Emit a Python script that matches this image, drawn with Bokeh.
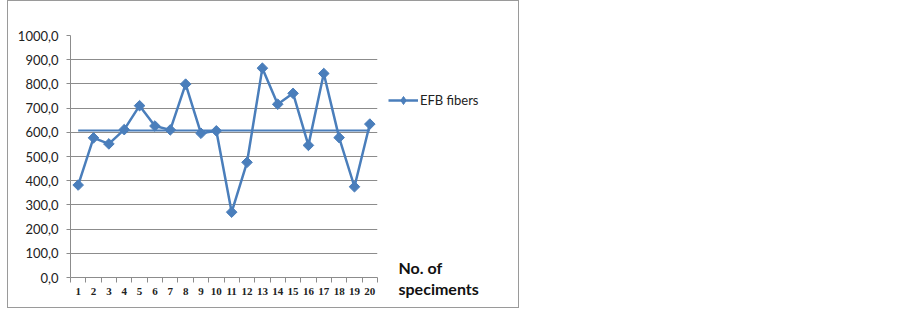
import numpy as np
from bokeh.plotting import figure
from bokeh.layouts import row
from bokeh.models import FixedTicker, Range1d, Legend, LegendItem, Label
from bokeh.embed import file_html
from bokeh.resources import INLINE

# ---- data ----
specimens = list(range(1, 21))
efb_values = [382, 577, 552, 611, 710, 626, 610, 799, 596, 606,
              270, 476, 865, 716, 761, 546, 843, 578, 375, 634]
mean_level = 607.0
y_ticks = [0, 100, 200, 300, 400, 500, 600, 700, 800, 900, 1000]
y_tick_labels = ["0,0", "100,0", "200,0", "300,0", "400,0", "500,0",
                 "600,0", "700,0", "800,0", "900,0", "1000,0"]
x_tick_labels = [str(s) for s in specimens]
series_name = "EFB fibers"
x_title = ["No. of", "speciments"]

BLUE = "#4a7ebb"
GRID = "#8c8c8c"
H = 306

p = figure(width=370, height=H, output_backend="svg", toolbar_location=None,
           x_range=Range1d(0.5, 20.5), y_range=Range1d(0, 1000),
           min_border_left=62, min_border_right=1,
           min_border_top=34, min_border_bottom=30)
p.outline_line_color = None
p.frame_align = False

p.xaxis.ticker = FixedTicker(ticks=specimens, minor_ticks=[s - 0.5 for s in specimens] + [20.5])
p.xaxis.major_label_overrides = {s: l for s, l in zip(specimens, x_tick_labels)}
p.xaxis.major_tick_out = 0
p.xaxis.major_tick_in = 0
p.xaxis.minor_tick_out = 5
p.xaxis.minor_tick_in = 0
p.xaxis.minor_tick_line_color = GRID
p.xaxis.axis_line_color = GRID
p.xaxis.major_label_standoff = 5
p.xaxis.major_label_text_font = "Liberation Serif"
p.xaxis.major_label_text_font_style = "bold"
p.xaxis.major_label_text_font_size = "11px"
p.xaxis.major_label_text_color = "#222222"

p.yaxis.ticker = FixedTicker(ticks=y_ticks, minor_ticks=[])
p.yaxis.major_label_overrides = {t: l for t, l in zip(y_ticks, y_tick_labels)}
p.yaxis.major_tick_out = 4
p.yaxis.major_tick_in = 0
p.yaxis.major_tick_line_color = GRID
p.yaxis.axis_line_color = GRID
p.yaxis.major_label_standoff = 8
p.yaxis.major_label_text_font = "Lato"
p.yaxis.major_label_text_font_size = "13px"
p.yaxis.major_label_text_color = "#222222"

p.xgrid.grid_line_color = None
p.ygrid.grid_line_color = GRID

# mean line
p.line([specimens[0], specimens[-1]], [mean_level, mean_level], line_color=BLUE, line_width=2)
# series
p.line(specimens, efb_values, line_color=BLUE, line_width=2.5)
p.scatter(specimens, efb_values, marker="square", angle=np.pi / 4, size=7.5,
          fill_color=BLUE, line_color=BLUE)

# side panel: legend + axis title
QW = 140
q = figure(width=QW, height=H, output_backend="svg", toolbar_location=None,
           x_range=Range1d(0, QW), y_range=Range1d(0, H),
           min_border=0, min_border_left=0, min_border_right=0,
           min_border_top=0, min_border_bottom=0,
           x_axis_type=None, y_axis_type=None)
q.outline_line_color = None
q.grid.grid_line_color = None
q.frame_align = False
lg_line = q.line([-50, -40], [-50, -50], line_color=BLUE, line_width=2.5)
lg_mark = q.scatter([-50], [-50], marker="diamond", size=10.5,
                    fill_color=BLUE, line_color=BLUE)
legend = Legend(items=[LegendItem(label=series_name, renderers=[lg_line, lg_mark])],
                location=(10, 197), border_line_color=None, background_fill_alpha=0,
                label_text_font="Lato", label_text_font_size="13px",
                label_text_color="#222222", glyph_width=30, label_standoff=2,
                padding=0, margin=0, spacing=0)
q.add_layout(legend, "center")
for i, t in enumerate(x_title):
    q.add_layout(Label(x=20, y=[40, 19][i], text=t, text_font="Lato",
                       text_font_style="bold", text_font_size="16px",
                       text_color="#111111", text_baseline="middle"))

layout = row(p, q, spacing=0)
layout.styles = {"border": "1px solid #9a9a9a", "margin-left": "7px"}
open("out.html", "w").write(file_html(layout, INLINE))
